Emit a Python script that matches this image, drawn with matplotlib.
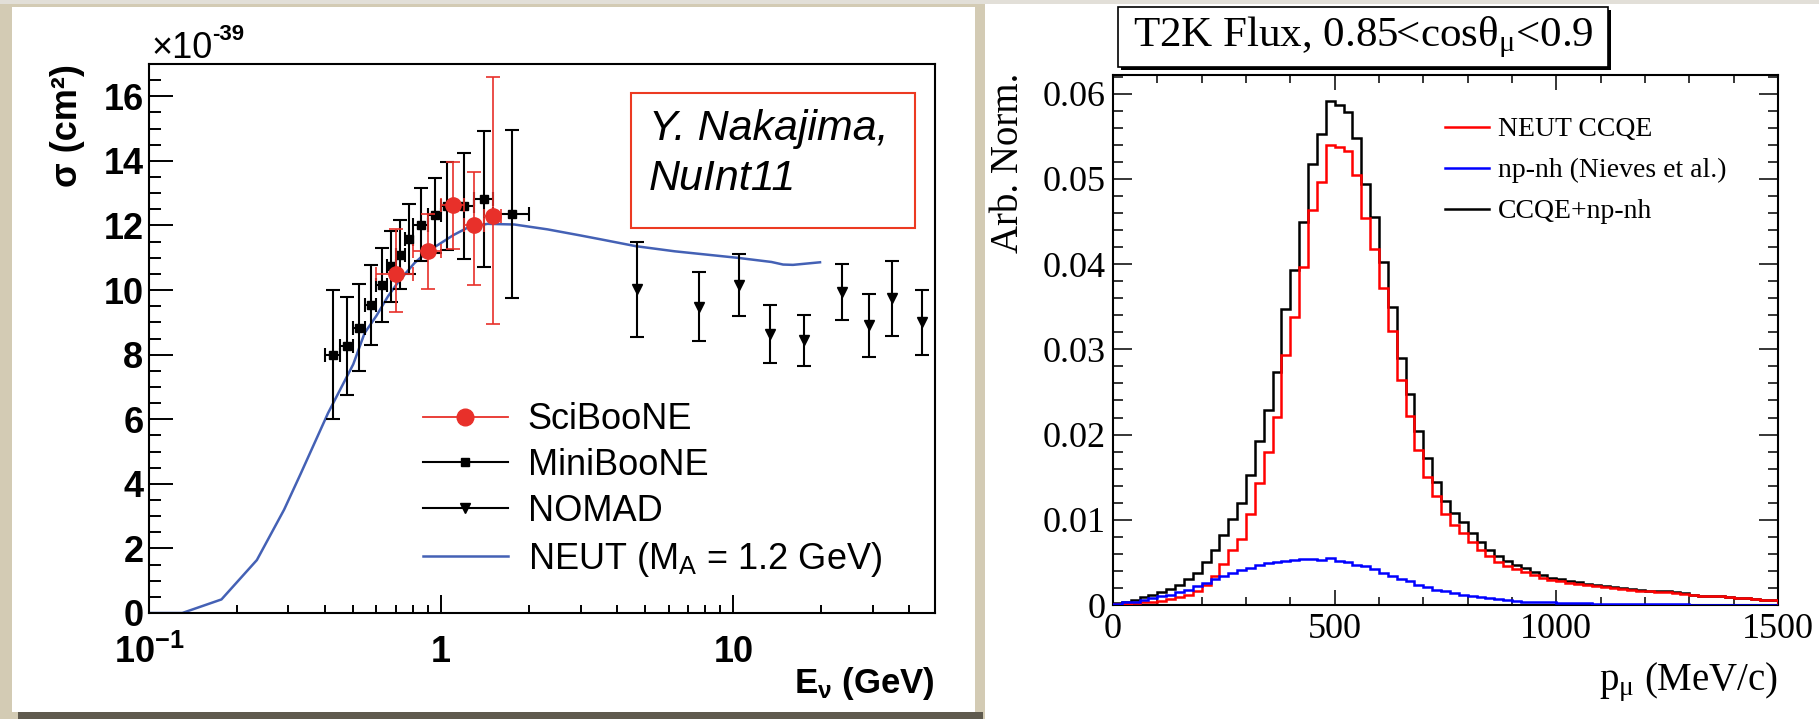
import numpy as np
import matplotlib.pyplot as plt
from matplotlib.patches import Rectangle
from matplotlib.lines import Line2D
from matplotlib.ticker import FixedLocator, MultipleLocator, LogLocator, NullFormatter

plt.rcParams['mathtext.fontset'] = 'custom'
plt.rcParams['mathtext.rm'] = 'Liberation Serif'
plt.rcParams['mathtext.it'] = 'Liberation Serif:italic'
plt.rcParams['mathtext.bf'] = 'Liberation Serif:bold'
plt.rcParams['mathtext.sf'] = 'Liberation Sans:bold'
plt.rcParams['mathtext.tt'] = 'Liberation Sans'

# ---- left panel: CCQE cross section ----
MINI_E = [0.425, 0.475, 0.525, 0.575, 0.625, 0.675, 0.725, 0.775, 0.85, 0.95, 1.05, 1.2, 1.4, 1.75]
MINI_XERR = [0.025, 0.025, 0.025, 0.025, 0.025, 0.025, 0.025, 0.025, 0.05, 0.05, 0.05, 0.1, 0.1, 0.25]
MINI_SIG = [8.0, 8.28, 8.83, 9.54, 10.15, 10.74, 11.1, 11.59, 12.03, 12.32, 12.6, 12.6, 12.81, 12.36]
MINI_ERR = [2.0, 1.52, 1.35, 1.24, 1.14, 1.1, 1.08, 1.08, 1.14, 1.16, 1.37, 1.65, 2.1, 2.6]

SCI_E = [0.7, 0.9, 1.1, 1.3, 1.5]
SCI_XERR = [0.1, 0.1, 0.1, 0.1, 0.1]
SCI_SIG = [10.51, 11.2, 12.62, 12.0, 12.29]
SCI_ERR_LO = [1.2, 1.18, 1.34, 1.85, 3.33]
SCI_ERR_HI = [1.39, 1.16, 1.34, 1.66, 4.3]

NOMAD_E = [4.69, 7.62, 10.43, 13.3, 17.5, 23.5, 29.2, 35.0, 44.4]
NOMAD_SIG = [10.02, 9.48, 10.17, 8.65, 8.44, 9.94, 8.91, 9.74, 9.0]
NOMAD_ERR = [1.46, 1.07, 0.96, 0.9, 0.78, 0.87, 0.98, 1.16, 1.0]

NEUT_E = [0.1, 0.13, 0.177, 0.234, 0.29, 0.33, 0.41, 0.5, 0.547, 0.6, 0.658, 0.72, 0.811,
          0.9, 1.0, 1.1, 1.23, 1.44, 1.78, 2.31, 3.0, 3.52, 4.63, 6.3, 10.3, 13.5, 14.8, 16.0, 19.8]
NEUT_SIG = [0, 0, 0.42, 1.64, 3.2, 4.3, 6.19, 7.7, 8.67, 9.2, 9.81, 10.3, 10.84,
            11.2, 11.46, 11.7, 11.93, 12.05, 12.03, 11.88, 11.69, 11.57, 11.36, 11.2, 11.0, 10.87, 10.79, 10.78, 10.86]

LEFT_YTICKS = [0, 2, 4, 6, 8, 10, 12, 14, 16]
LEFT_XTICKS = [0.1, 1, 10]
LEFT_XLABELS = ['$\\mathsf{10^{-1}}$', '1', '10']

# ---- right panel: muon momentum, 20 MeV/c bins ----
P_EDGES = np.linspace(0, 1500, 76)
CCQE = [0.0001, 0.0001, 0.0002, 0.0003, 0.0004, 0.0005, 0.0007, 0.0009, 0.0012, 0.0016,
        0.0024, 0.0034, 0.0048, 0.0064, 0.0078, 0.0107, 0.0143, 0.0179, 0.0221, 0.0293,
        0.0338, 0.0397, 0.0464, 0.0497, 0.0540, 0.0538, 0.0533, 0.0505, 0.0454, 0.0418,
        0.0372, 0.0321, 0.0264, 0.0222, 0.0182, 0.0150, 0.0128, 0.0107, 0.0094, 0.0085,
        0.0074, 0.0065, 0.0057, 0.0050, 0.0046, 0.0042, 0.0039, 0.0035, 0.0032, 0.0029,
        0.0028, 0.0026, 0.0025, 0.0023, 0.0022, 0.0021, 0.0020, 0.0019, 0.0018, 0.0017,
        0.0016, 0.0015, 0.0015, 0.0014, 0.0013, 0.0012, 0.0011, 0.0011, 0.0010, 0.0009,
        0.0008, 0.0008, 0.0007, 0.0006, 0.0006]
NPNH = [0.0001, 0.0003, 0.0004, 0.0006, 0.0008, 0.0010, 0.0012, 0.0015, 0.0018, 0.0022,
        0.0026, 0.0030, 0.0034, 0.0038, 0.0041, 0.0044, 0.0047, 0.0049, 0.0051, 0.0052,
        0.0053, 0.0054, 0.0054, 0.0053, 0.0055, 0.0052, 0.0050, 0.0047, 0.0046, 0.0042,
        0.0038, 0.0034, 0.0031, 0.0028, 0.0024, 0.0021, 0.0018, 0.0016, 0.0014, 0.0012,
        0.0010, 0.0009, 0.0008, 0.0007, 0.0006, 0.0005, 0.0004, 0.0004, 0.0003, 0.0003,
        0.0002, 0.0002, 0.0002, 0.0002, 0.0001, 0.0001, 0.0001, 0.0001, 0.0001, 0.0001,
        0.0001, 0.0001, 0.0001, 0.0001, 0.0001, 0.0, 0.0, 0.0, 0.0, 0.0,
        0.0, 0.0, 0.0, 0.0, 0.0]
TOTAL = [0.0002, 0.0004, 0.0006, 0.0009, 0.0012, 0.0015, 0.0019, 0.0024, 0.0030, 0.0038,
         0.0050, 0.0064, 0.0082, 0.0101, 0.0120, 0.0153, 0.0192, 0.0229, 0.0273, 0.0347,
         0.0393, 0.0450, 0.0517, 0.0553, 0.0591, 0.0587, 0.0578, 0.0548, 0.0494, 0.0455,
         0.0403, 0.0350, 0.0290, 0.0248, 0.0204, 0.0173, 0.0144, 0.0122, 0.0108, 0.0097,
         0.0084, 0.0074, 0.0065, 0.0057, 0.0052, 0.0047, 0.0043, 0.0039, 0.0035, 0.0032,
         0.0030, 0.0028, 0.0027, 0.0025, 0.0023, 0.0022, 0.0021, 0.0020, 0.0019, 0.0018,
         0.0017, 0.0016, 0.0016, 0.0015, 0.0014, 0.0012, 0.0011, 0.0011, 0.0010, 0.0009,
         0.0008, 0.0008, 0.0007, 0.0006, 0.0006]

RIGHT_YTICKS = [0, 0.01, 0.02, 0.03, 0.04, 0.05, 0.06]
RIGHT_YLABELS = ['0', '0.01', '0.02', '0.03', '0.04', '0.05', '0.06']
RIGHT_XTICKS = [0, 500, 1000, 1500]

W, H = 1819, 719


def fx(x):
    return x / W


def fy(y):
    return 1 - y / H


fig = plt.figure(figsize=(W / 100, H / 100), dpi=100)

# slide-like frame behind the left plot
fig.add_artist(Rectangle((0, 0), fx(985), 1, transform=fig.transFigure,
                         facecolor='#d3cbb4', edgecolor='none', zorder=-3))
fig.add_artist(Rectangle((fx(18), fy(719)), fx(965), 7 / H, transform=fig.transFigure,
                         facecolor='#5f5a4e', edgecolor='none', zorder=-2))
fig.add_artist(Rectangle((fx(12), fy(712)), fx(963), 705 / H, transform=fig.transFigure,
                         facecolor='white', edgecolor='none', zorder=-1))
fig.add_artist(Rectangle((0, fy(4)), 1, 4 / H, transform=fig.transFigure,
                         facecolor='#e2dfd8', edgecolor='none', zorder=-2))

SANS = 'Liberation Sans'
SERIF = 'Liberation Serif'
RED = '#e8302a'
NEUT_BLUE = '#4461b5'

ax1 = fig.add_axes([fx(149), fy(613), 786 / W, 549 / H])
ax1.set_xscale('log')
ax1.plot(NEUT_E, NEUT_SIG, color=NEUT_BLUE, lw=1.8, zorder=2)
ax1.errorbar(NOMAD_E, NOMAD_SIG, yerr=NOMAD_ERR, fmt='v', color='black', ms=7,
             elinewidth=1.5, capsize=5, capthick=1.5, zorder=3)
ax1.errorbar(MINI_E, MINI_SIG, xerr=MINI_XERR, yerr=MINI_ERR, fmt='s', color='black', ms=6,
             elinewidth=1.5, capsize=5, capthick=1.5, zorder=3)
ax1.errorbar(SCI_E, SCI_SIG, xerr=SCI_XERR, yerr=[SCI_ERR_LO, SCI_ERR_HI], fmt='o', color=RED,
             ms=11, elinewidth=1.2, capsize=5, capthick=1.2, zorder=4)
ax1.set_xlim(0.1, 49)
ax1.set_ylim(0, 17)
for s in ax1.spines.values():
    s.set_linewidth(1.5)
ax1.yaxis.set_major_locator(FixedLocator(LEFT_YTICKS))
ax1.yaxis.set_minor_locator(MultipleLocator(0.5))
ax1.xaxis.set_major_locator(FixedLocator(LEFT_XTICKS))
ax1.xaxis.set_minor_locator(LogLocator(subs=np.arange(2, 10)))
ax1.xaxis.set_minor_formatter(NullFormatter())
ax1.set_xticklabels(LEFT_XLABELS, fontsize=26, fontweight='bold', family=SANS)
ax1.set_yticks(LEFT_YTICKS)
ax1.set_yticklabels([str(v) for v in LEFT_YTICKS], fontsize=26, fontweight='bold', family=SANS)
ax1.tick_params(axis='y', which='major', direction='in', length=17, width=1.4, pad=4, right=False)
ax1.tick_params(axis='y', which='minor', direction='in', length=8.5, width=1.4, right=False)
ax1.tick_params(axis='x', which='major', direction='in', length=13, width=1.4, pad=16, top=False)
ax1.tick_params(axis='x', which='minor', direction='in', length=6, width=1.4, top=False)

fig.text(fx(151), fy(58), '×10', fontsize=26, family=SANS, va='baseline')
fig.text(fx(212), fy(40), '-39', fontsize=16, family=SANS, fontweight='bold', va='baseline')
fig.text(fx(67), fy(64), 'σ (cm²)', rotation=90, ha='center', va='top', fontsize=26,
         fontweight='bold', family=SANS)
fig.text(fx(935), fy(693), '$\\mathsf{E_{\\nu}}$ (GeV)', ha='right', va='baseline', fontsize=25,
         fontweight='bold', family=SANS)

fig.add_artist(Rectangle((fx(631), fy(228)), 284 / W, 135 / H, transform=fig.transFigure,
                         fill=False, edgecolor='#ec3a22', lw=1.5))
fig.text(fx(649), fy(129), 'Y. Nakajima,', fontsize=31, style='italic', family=SANS, va='center')
fig.text(fx(649), fy(179), 'NuInt11', fontsize=31, style='italic', family=SANS, va='center')

left_handles = [
    Line2D([], [], color=RED, marker='o', ms=12, lw=1.3),
    Line2D([], [], color='black', marker='s', ms=6, lw=1.5),
    Line2D([], [], color='black', marker='v', ms=7, lw=1.5),
    Line2D([], [], color=NEUT_BLUE, lw=1.8),
]
left_labels = ['SciBooNE', 'MiniBooNE', 'NOMAD', 'NEUT (M$_{\\mathtt{A}}$ = 1.2 GeV)']
ax1.legend(left_handles, left_labels, loc='upper left', bbox_to_anchor=(0.3486, 0.384),
           frameon=False, prop={'family': SANS, 'size': 26}, handlelength=2.35,
           handletextpad=0.55, labelspacing=0.3, borderpad=0, borderaxespad=0)

# ---- right panel ----
ax2 = fig.add_axes([fx(1113), fy(605), 665 / W, 530 / H])
ax2.stairs(TOTAL, P_EDGES, color='black', lw=1.8, zorder=2)
ax2.stairs(CCQE, P_EDGES, color='#ff0000', lw=1.8, zorder=3)
ax2.stairs(NPNH, P_EDGES, color='#0000ff', lw=1.8, zorder=4)
ax2.set_xlim(0, 1500)
ax2.set_ylim(0, 0.0622)
for s in ax2.spines.values():
    s.set_linewidth(1.5)
ax2.set_xticks(RIGHT_XTICKS)
ax2.set_xticklabels([str(v) for v in RIGHT_XTICKS], fontsize=26, family=SERIF)
ax2.xaxis.set_minor_locator(MultipleLocator(100))
ax2.set_yticks(RIGHT_YTICKS)
ax2.set_yticklabels(RIGHT_YLABELS, fontsize=26, family=SERIF)
ax2.yaxis.set_minor_locator(MultipleLocator(0.002))
ax2.tick_params(axis='y', which='major', direction='in', length=14, width=1.1, pad=5,
                left=True, right=True)
ax2.tick_params(axis='y', which='minor', direction='in', length=7, width=1.1, left=True, right=True)
ax2.tick_params(axis='x', which='major', direction='in', length=10.5, width=1.1, pad=6,
                bottom=True, top=True)
ax2.tick_params(axis='x', which='minor', direction='in', length=5.5, width=1.1, bottom=True, top=True)

right_handles = [Line2D([], [], color='#ff0000', lw=1.8),
                 Line2D([], [], color='#0000ff', lw=1.8),
                 Line2D([], [], color='black', lw=1.8)]
ax2.legend(right_handles, ['NEUT CCQE', 'np-nh (Nieves et al.)', 'CCQE+np-nh'],
           loc='upper left', bbox_to_anchor=(0.4992, 0.921), frameon=False,
           prop={'family': SERIF, 'size': 20}, handlelength=1.58, handletextpad=0.32,
           labelspacing=0.56, borderpad=0, borderaxespad=0)

fig.text(fx(1008), fy(73), 'Arb. Norm.', rotation=90, ha='center', va='top', fontsize=28,
         family=SERIF)
fig.text(fx(1778), fy(690), '$\\mathrm{p_{\\mu}}$ (MeV/c)', ha='right', va='baseline', fontsize=28,
         family=SERIF)

fig.add_artist(Rectangle((fx(1121), fy(70)), 490 / W, 60 / H, transform=fig.transFigure,
                         facecolor='black', edgecolor='none'))
fig.add_artist(Rectangle((fx(1118), fy(67)), 490 / W, 60 / H, transform=fig.transFigure,
                         facecolor='white', edgecolor='black', lw=1.2))
fig.text(fx(1133), fy(46), 'T2K Flux, 0.85<cos$\\mathrm{\\theta_{\\mu}}$<0.9', fontsize=31,
         family=SERIF, va='baseline')

fig.savefig('out.png', dpi=100)
